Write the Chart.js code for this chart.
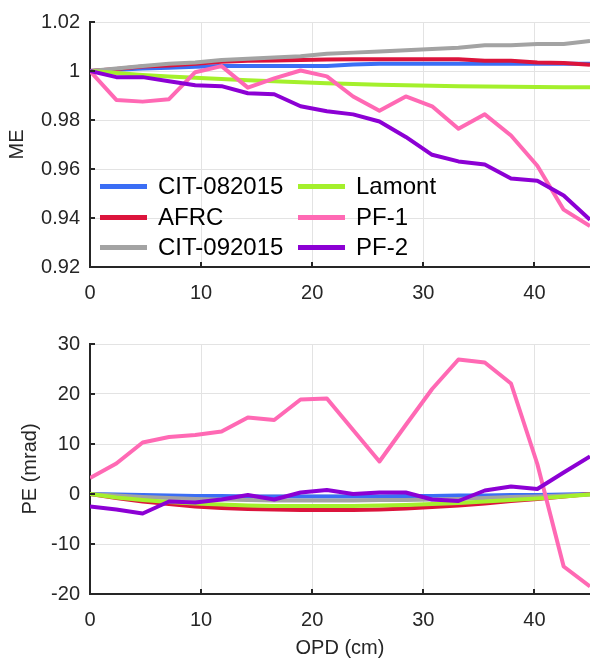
<!DOCTYPE html>
<html>
<head>
<meta charset="utf-8">
<script src="https://cdn.jsdelivr.net/npm/chart.js@4"></script>
<style>
    body { margin: 0; background: #fff; }
    #wrap { position: relative; width: 590px; height: 662px; overflow: hidden; font-family: "Liberation Sans", Arial, sans-serif; }
    canvas { position: absolute; left: 0; }
    #meCanvas { top: 0; }
    #peCanvas { top: 320px; }
    #legend { position: absolute; left: 0; top: 0; }
    .leg-item { position: absolute; display: flex; align-items: center; height: 30px; font-size: 24px; color: #000; white-space: nowrap; }
    .leg-line { display: inline-block; width: 47px; height: 5px; margin-right: 11px; }
</style>
</head>
<body>
<div id="wrap">
    <canvas id="meCanvas" width="590" height="320"></canvas>
    <canvas id="peCanvas" width="590" height="342"></canvas>
    <div id="legend"></div>
</div>
<script>
// OPD sample positions (cm)
const opd = [0, 2.37, 4.74, 7.11, 9.47, 11.84, 14.21, 16.58, 18.95, 21.32, 23.68, 26.05, 28.42, 30.79, 33.16, 35.53, 37.89, 40.26, 42.63, 45];

const seriesNames = ['CIT-082015', 'AFRC', 'CIT-092015', 'Lamont', 'PF-1', 'PF-2'];
const seriesColors = ['#3b6ef5', '#dc143c', '#a3a3a3', '#a4f02c', '#ff69b4', '#8c00d4'];

// ME
const meCit082015 = [1.0, 1.0005, 1.001, 1.0013, 1.0017, 1.002, 1.002, 1.002, 1.002, 1.002, 1.0027, 1.003, 1.003, 1.003, 1.003, 1.003, 1.003, 1.003, 1.003, 1.003];
const meAfrc      = [1.0, 1.0008, 1.0018, 1.0022, 1.003, 1.0038, 1.0042, 1.0043, 1.0045, 1.0047, 1.0048, 1.0048, 1.0048, 1.0048, 1.0048, 1.0042, 1.0042, 1.0035, 1.0033, 1.0025];
const meCit092015 = [1.0, 1.001, 1.002, 1.003, 1.0035, 1.0045, 1.005, 1.0055, 1.006, 1.007, 1.0075, 1.008, 1.0085, 1.009, 1.0095, 1.0105, 1.0105, 1.011, 1.011, 1.0122];
const meLamont    = [1.0, 0.9992, 0.9984, 0.9978, 0.9972, 0.9967, 0.9962, 0.9958, 0.9954, 0.995, 0.9947, 0.9944, 0.9942, 0.994, 0.9938, 0.9937, 0.9936, 0.9935, 0.9934, 0.9934];
const mePf1       = [1.0, 0.9882, 0.9875, 0.9885, 0.9995, 1.002, 0.9932, 0.997, 1.0002, 0.9978, 0.9896, 0.9838, 0.9896, 0.9856, 0.9764, 0.9823, 0.9737, 0.9613, 0.9434, 0.9367];
const mePf2       = [1.0, 0.9975, 0.9975, 0.9958, 0.9942, 0.9938, 0.9909, 0.9905, 0.9856, 0.9836, 0.9823, 0.9794, 0.9731, 0.9658, 0.9631, 0.9618, 0.9561, 0.9552, 0.9492, 0.9393];

// PE (mrad)
const peCit082015 = [0, -0.1, -0.2, -0.3, -0.4, -0.4, -0.5, -0.5, -0.5, -0.5, -0.5, -0.5, -0.4, -0.4, -0.3, -0.3, -0.2, -0.2, -0.1, 0];
const peAfrc      = [0, -0.8, -1.5, -2.0, -2.5, -2.8, -3.0, -3.1, -3.2, -3.2, -3.2, -3.1, -2.9, -2.6, -2.3, -1.9, -1.4, -1.0, -0.5, 0];
const peCit092015 = [0, -0.3, -0.6, -0.8, -1.0, -1.1, -1.2, -1.3, -1.3, -1.3, -1.3, -1.2, -1.2, -1.1, -1.0, -0.8, -0.6, -0.5, -0.3, -0.1];
const peLamont    = [0, -0.7, -1.2, -1.6, -1.9, -2.1, -2.3, -2.4, -2.4, -2.4, -2.4, -2.3, -2.2, -2.0, -1.8, -1.5, -1.2, -0.9, -0.5, -0.1];
const pePf1       = [3.2, 6.1, 10.3, 11.4, 11.8, 12.5, 15.3, 14.8, 18.9, 19.1, 12.8, 6.5, 13.8, 21.0, 26.9, 26.3, 22.1, 6.0, -14.5, -18.5];
const pePf2       = [-2.5, -3.1, -3.9, -1.5, -1.7, -1.1, -0.2, -1.1, 0.3, 0.8, 0.0, 0.3, 0.3, -1.1, -1.4, 0.7, 1.5, 1.0, 4.3, 7.5];

// ticks
const xTicks = [0, 10, 20, 30, 40];
const meTicks = [0.92, 0.94, 0.96, 0.98, 1, 1.02];
const peTicks = [-20, -10, 0, 10, 20, 30];

const axisColor = '#262626';
const gridColor = '#e3e3e3';
const fontFamily = '"Liberation Sans", Arial, sans-serif';

function makeDatasets(seriesList) {
    return seriesList.map(function(vals, i) {
        return {
            label: seriesNames[i],
            data: vals.map(function(v, j) { return { x: opd[j], y: v }; }),
            borderColor: seriesColors[i],
            backgroundColor: seriesColors[i],
            borderWidth: 4,
            pointRadius: 0,
            tension: 0,
            borderJoinStyle: 'round',
            fill: false,
            // later series drawn on top, like the original plot
            order: seriesList.length - 1 - i
        };
    });
}

// MATLAB style inward tick marks
const inwardTicks = {
    id: 'inwardTicks',
    afterDatasetsDraw(chart) {
        const { ctx, chartArea, scales } = chart;
        ctx.save();
        ctx.strokeStyle = axisColor;
        ctx.lineWidth = 2;
        scales.x.ticks.forEach(function(t) {
            const px = Math.round(scales.x.getPixelForValue(t.value));
            ctx.beginPath();
            ctx.moveTo(px, chartArea.bottom);
            ctx.lineTo(px, chartArea.bottom - 5);
            ctx.stroke();
        });
        scales.y.ticks.forEach(function(t) {
            const py = Math.round(scales.y.getPixelForValue(t.value));
            ctx.beginPath();
            ctx.moveTo(chartArea.left, py);
            ctx.lineTo(chartArea.left + 5, py);
            ctx.stroke();
        });
        ctx.restore();
    }
};

function makeOptions(cfg) {
    return {
        responsive: false,
        animation: false,
        layout: { padding: { top: cfg.padTop, right: 0, left: 0, bottom: 0 } },
        plugins: { legend: { display: false }, tooltip: { enabled: false } },
        scales: {
            x: {
                type: 'linear',
                min: 0,
                max: 45,
                afterBuildTicks: function(scale) { scale.ticks = xTicks.map(function(v) { return { value: v }; }); },
                afterFit: function(scale) { scale.height = cfg.xHeight; },
                ticks: {
                    color: axisColor,
                    padding: 14,
                    font: { family: fontFamily, size: 20 },
                    callback: function(v) { return String(v); }
                },
                grid: { color: gridColor, lineWidth: 1, drawTicks: false },
                border: { color: axisColor, width: 2 },
                title: {
                    display: !!cfg.xTitle,
                    text: cfg.xTitle || '',
                    color: axisColor,
                    font: { family: fontFamily, size: 20 },
                    padding: { top: 0, bottom: 2 }
                }
            },
            y: {
                type: 'linear',
                min: cfg.yMin,
                max: cfg.yMax,
                afterBuildTicks: function(scale) { scale.ticks = cfg.yTicks.map(function(v) { return { value: v }; }); },
                afterFit: function(scale) { scale.width = 90; },
                ticks: {
                    color: axisColor,
                    padding: 10,
                    font: { family: fontFamily, size: 20 },
                    callback: function(v) { return String(v); }
                },
                grid: { color: gridColor, lineWidth: 1, drawTicks: false },
                border: { color: axisColor, width: 2 },
                title: {
                    display: true,
                    text: cfg.yTitle,
                    color: axisColor,
                    font: { family: fontFamily, size: 20 },
                    padding: { top: cfg.yTitlePad, bottom: 0 }
                }
            }
        }
    };
}

const meChart = new Chart(document.getElementById('meCanvas'), {
    type: 'line',
    data: { datasets: makeDatasets([meCit082015, meAfrc, meCit092015, meLamont, mePf1, mePf2]) },
    options: makeOptions({ padTop: 15, xHeight: 53, yMin: 0.92, yMax: 1.02, yTicks: meTicks, yTitle: 'ME', yTitlePad: 5 }),
    plugins: [inwardTicks]
});

new Chart(document.getElementById('peCanvas'), {
    type: 'line',
    data: { datasets: makeDatasets([peCit082015, peAfrc, peCit092015, peLamont, pePf1, pePf2]) },
    options: makeOptions({ padTop: 24, xHeight: 68, yMin: -20, yMax: 30, yTicks: peTicks, yTitle: 'PE (mrad)', yTitlePad: 18, xTitle: 'OPD (cm)' }),
    plugins: [inwardTicks]
});

// legend inside the ME panel, two columns of three
const legend = document.getElementById('legend');
const legCols = [100, 298];
const legRows = [186, 217, 247];
meChart.data.datasets.forEach(function(ds, i) {
    const item = document.createElement('div');
    item.className = 'leg-item';
    item.style.left = legCols[Math.floor(i / 3)] + 'px';
    item.style.top = (legRows[i % 3] - 15) + 'px';
    const line = document.createElement('span');
    line.className = 'leg-line';
    line.style.background = ds.borderColor;
    const txt = document.createElement('span');
    txt.textContent = ds.label;
    item.appendChild(line);
    item.appendChild(txt);
    legend.appendChild(item);
});
</script>
</body>
</html>
